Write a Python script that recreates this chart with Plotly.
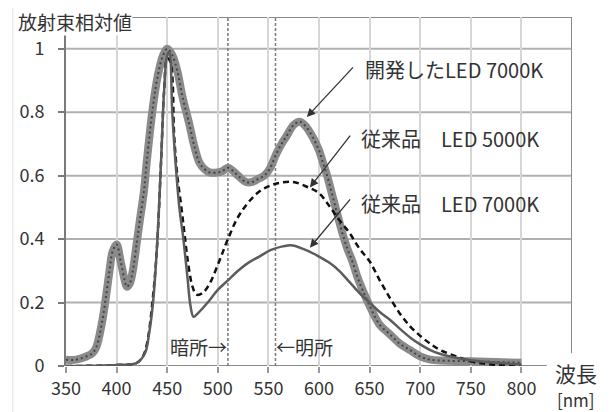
import plotly.graph_objects as go

# ---------------- data ----------------
dev_nm = [350, 360, 370, 376, 380, 386, 390, 393, 396, 400, 404, 408, 410, 413, 416, 420, 423, 427,
          430, 436, 441, 446, 450, 455, 460, 465, 472, 477, 482, 487, 492, 500, 505, 510, 515, 520,
          528, 534, 540, 546, 551, 558, 563, 568, 575, 581, 587, 594, 600, 604, 608, 613, 618, 623,
          628, 633, 638, 643, 650, 660, 670, 680, 690, 700, 710, 750, 800]
dev_val = [0.02, 0.02, 0.03, 0.04, 0.06, 0.145, 0.23, 0.30, 0.36, 0.383, 0.33, 0.27, 0.25, 0.26, 0.30,
           0.39, 0.46, 0.55, 0.65, 0.82, 0.92, 0.98, 1.0, 0.98, 0.93, 0.85, 0.76, 0.69, 0.64, 0.62,
           0.61, 0.61, 0.615, 0.625, 0.615, 0.60, 0.58, 0.58, 0.59, 0.60, 0.62, 0.67, 0.70, 0.725,
           0.76, 0.77, 0.755, 0.72, 0.68, 0.64, 0.60, 0.54, 0.48, 0.42, 0.37, 0.33, 0.28, 0.24, 0.19,
           0.13, 0.10, 0.07, 0.05, 0.03, 0.02, 0.015, 0.01]

c5000_nm = [350, 400, 420, 426, 430, 436, 440, 444, 447, 450, 453, 457, 460, 464, 467, 470, 475, 479,
            485, 492, 502, 510, 522, 541, 558, 574, 588, 600, 610, 620, 630, 640, 650, 660, 670, 680,
            690, 700, 710, 720, 736, 752, 770, 800]
c5000_val = [0.0, 0.003, 0.01, 0.03, 0.07, 0.22, 0.38, 0.65, 0.87, 0.97, 0.96, 0.72, 0.60, 0.50, 0.42,
             0.34, 0.25, 0.225, 0.23, 0.26, 0.335, 0.40, 0.48, 0.55, 0.575, 0.58, 0.565, 0.545, 0.505,
             0.46, 0.42, 0.37, 0.33, 0.27, 0.215, 0.165, 0.125, 0.095, 0.07, 0.05, 0.03, 0.013, 0.005, 0.0]

c7000_nm = [350, 400, 420, 428, 432, 436, 440, 444, 447, 450, 452, 455, 458, 462, 466, 470, 473, 476,
            480, 490, 500, 510, 520, 530, 541, 552, 564, 574, 591, 600, 610, 620, 630, 640, 650, 660,
            670, 680, 690, 700, 710, 720, 730, 750, 775, 800]
c7000_val = [0.0, 0.003, 0.01, 0.04, 0.10, 0.20, 0.38, 0.65, 0.87, 0.98, 0.99, 0.80, 0.65, 0.50, 0.40,
             0.28, 0.19, 0.155, 0.165, 0.20, 0.24, 0.27, 0.30, 0.325, 0.345, 0.365, 0.377, 0.38, 0.36,
             0.345, 0.326, 0.30, 0.265, 0.23, 0.20, 0.17, 0.146, 0.117, 0.09, 0.068, 0.05, 0.038, 0.03,
             0.018, 0.01, 0.005]

x_ticks = [350, 400, 450, 500, 550, 600, 650, 700, 750, 800]
y_ticks = [0, 0.2, 0.4, 0.6, 0.8, 1.0]
y_tick_text = ["0", "0.2", "0.4", "0.6", "0.8", "1"]
scotopic_nm = 510
photopic_nm = 557

label_dev = "開発したLED 7000K"
label_5000 = "従来品　LED 5000K"
label_7000 = "従来品　LED 7000K"
y_title = "放射束相対値"
x_title = "波長"
x_unit = "[nm]"

X_MIN, X_MAX, Y_MAX = 350, 850, 1.1
FONT = "Noto Sans CJK JP, Noto Sans, sans-serif"
TXT = "#333333"

fig = go.Figure()

# developed LED: thick grey band with dark dotted texture
fig.add_trace(go.Scatter(x=dev_nm, y=dev_val, mode="lines", line=dict(color="#8a8a8a", width=8, shape="spline"),
                         showlegend=False, hoverinfo="skip"))
fig.add_trace(go.Scatter(x=dev_nm, y=dev_val, mode="lines",
                         line=dict(color="#444444", width=2, shape="spline", dash="2px,3px"),
                         showlegend=False))
# conventional 5000K: dashed black
fig.add_trace(go.Scatter(x=c5000_nm, y=c5000_val, mode="lines",
                         line=dict(color="#111111", width=2.5, shape="spline", dash="6px,4px"),
                         showlegend=False))
# conventional 7000K: solid dark grey
fig.add_trace(go.Scatter(x=c7000_nm, y=c7000_val, mode="lines",
                         line=dict(color="#5c5c5c", width=2.5, shape="spline"),
                         showlegend=False))

shapes = []
for yv in y_ticks[1:]:
    shapes.append(dict(type="line", xref="x", yref="y", x0=X_MIN, x1=X_MAX, y0=yv, y1=yv,
                       line=dict(color="#b0b0b0", width=2), layer="below"))
shapes.append(dict(type="line", xref="x", yref="y", x0=X_MIN, x1=X_MAX, y0=Y_MAX, y1=Y_MAX,
                   line=dict(color="#8a8a8a", width=2), layer="below"))
shapes.append(dict(type="line", xref="x", yref="y", x0=X_MAX, x1=X_MAX, y0=0.04, y1=Y_MAX,
                   line=dict(color="#8a8a8a", width=2), layer="below"))
shapes.append(dict(type="line", xref="x", yref="y", x0=X_MIN, x1=825, y0=0, y1=0,
                   line=dict(color="#8a8a8a", width=2), layer="below"))
for xv in (scotopic_nm, photopic_nm):
    shapes.append(dict(type="line", xref="x", yref="y", x0=xv, x1=xv, y0=0, y1=Y_MAX,
                       line=dict(color="#7a7a7a", width=1.5, dash="3px,2px"), layer="below"))
shapes.append(dict(type="rect", xref="paper", yref="paper", x0=-0.105, x1=1.077, y0=-0.2, y1=1.034,
                   line=dict(color="#e2e2e2", width=1), fillcolor="rgba(0,0,0,0)", layer="below"))

ann = []
ann.append(dict(text=y_title, xref="paper", yref="paper", x=-0.097, y=0.9885, xanchor="left", yanchor="middle",
                showarrow=False, bgcolor="white", borderpad=0,
                font=dict(size=19, color=TXT, family=FONT)))
ann.append(dict(text=x_title, xref="paper", yref="paper", x=0.962, y=-0.02, xanchor="left", yanchor="middle",
                showarrow=False, font=dict(size=21, color=TXT, family=FONT)))
ann.append(dict(text=x_unit, xref="paper", yref="paper", x=0.966, y=-0.097, xanchor="left", yanchor="middle",
                showarrow=False, font=dict(size=17, color=TXT, family=FONT)))

for text, tip, tail, ty in [
    (label_dev, (588, 0.785), (635, 0.946), 0.935),
    (label_5000, (591, 0.563), (632, 0.731), 0.718),
    (label_7000, (591, 0.373), (632, 0.53), 0.513),
]:
    ann.append(dict(x=tip[0], y=tip[1], ax=tail[0], ay=tail[1], xref="x", yref="y", axref="x", ayref="y",
                    text="", showarrow=True, arrowhead=2, arrowsize=1.3, arrowwidth=1.3, arrowcolor="#333"))
    ann.append(dict(x=tail[0] + 8, y=ty, xref="x", yref="y", text=text, showarrow=False,
                    xanchor="left", yanchor="middle", font=dict(size=20, color=TXT, family=FONT)))

ann.append(dict(text="暗所→", x=scotopic_nm + 1, y=0.06, xref="x", yref="y", xanchor="right", yanchor="middle",
                showarrow=False, font=dict(size=19, color=TXT, family=FONT)))
ann.append(dict(text="←明所", x=photopic_nm - 1, y=0.06, xref="x", yref="y", xanchor="left", yanchor="middle",
                showarrow=False, font=dict(size=19, color=TXT, family=FONT)))

# page body has an 8px default margin, so the figure is 8px smaller and margins are shifted
fig.update_layout(
    width=606, height=404,
    margin=dict(l=58, r=42, t=9, b=46),
    paper_bgcolor="white", plot_bgcolor="white",
    shapes=shapes, annotations=ann,
    font=dict(family=FONT, color=TXT),
    xaxis=dict(range=[X_MIN, X_MAX], tickvals=x_ticks, ticktext=[str(v) for v in x_ticks],
               showgrid=True, gridcolor="#d6d6d6", gridwidth=2, zeroline=False, showline=False,
               ticks="outside", ticklen=6, tickcolor="#9a9a9a", tickwidth=1.5,
               tickfont=dict(size=18, color=TXT, family=FONT)),
    yaxis=dict(range=[0, Y_MAX], tickvals=y_ticks, ticktext=y_tick_text,
               showgrid=False, zeroline=False, showline=True, linecolor="#7a7a7a", linewidth=2,
               ticks="outside", ticklen=6, tickcolor="#7a7a7a", tickwidth=1.5,
               ticklabelstandoff=10, tickfont=dict(size=18, color=TXT, family=FONT)),
)

fig.write_html("out.html")
